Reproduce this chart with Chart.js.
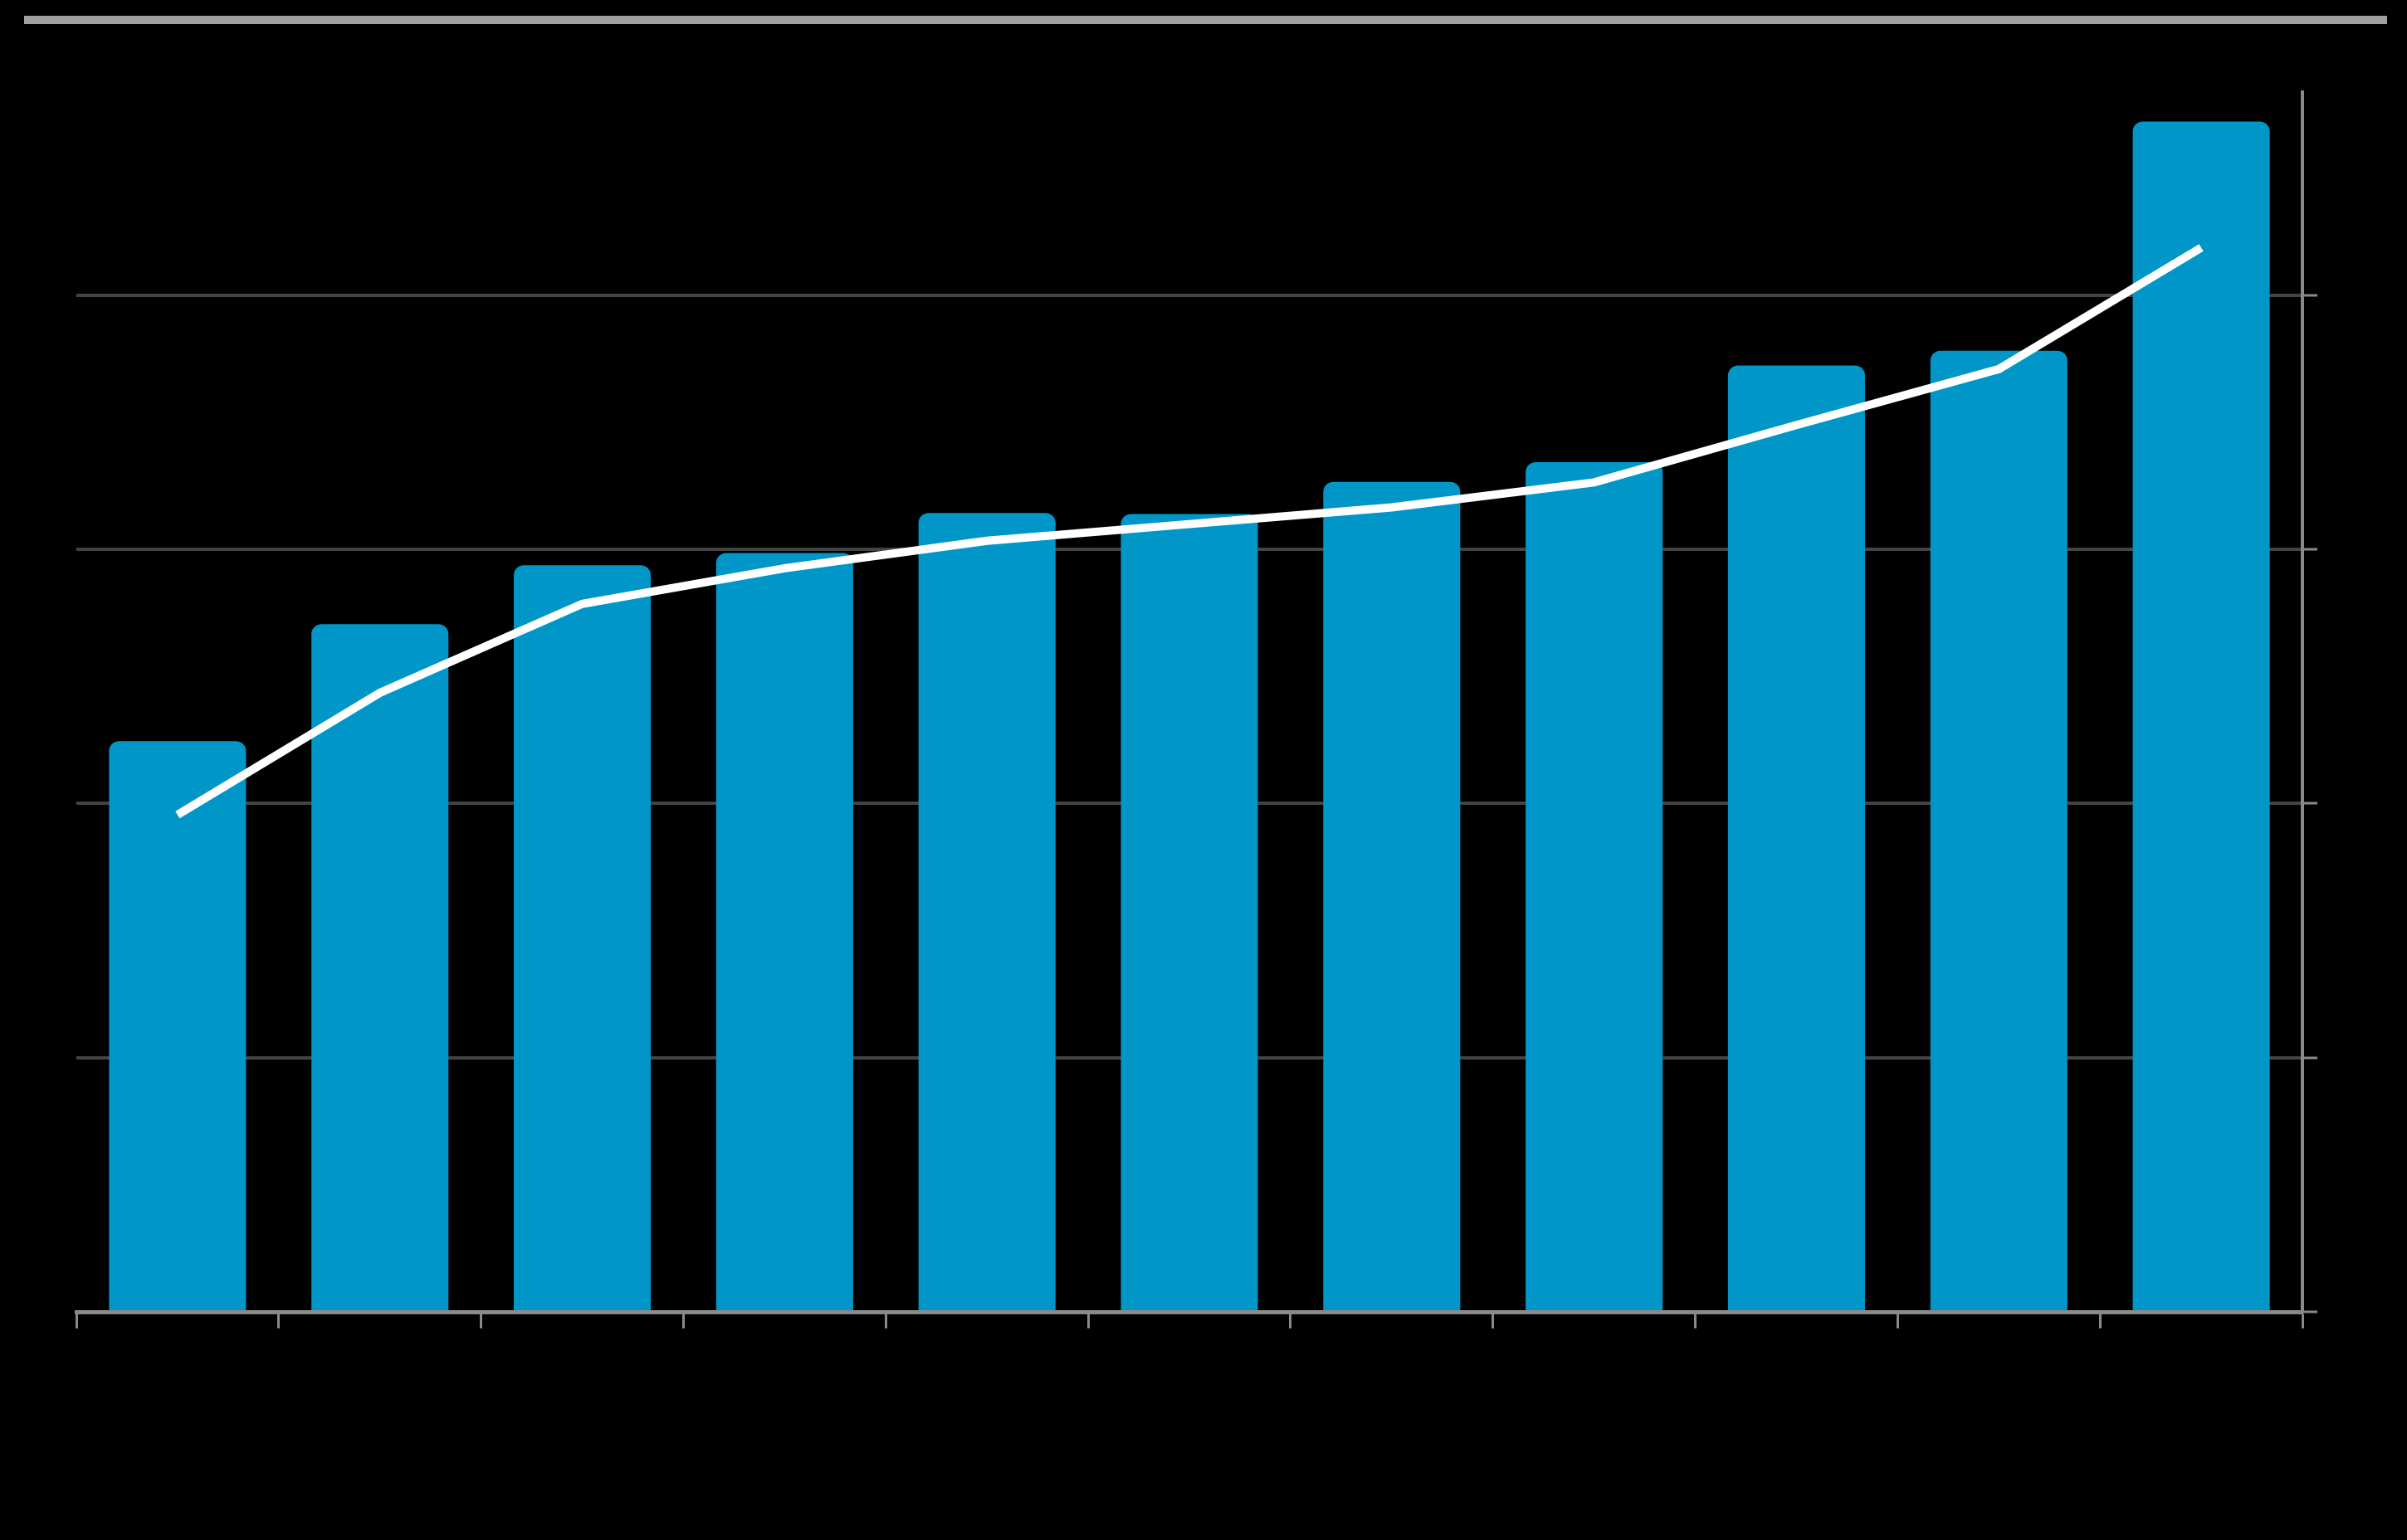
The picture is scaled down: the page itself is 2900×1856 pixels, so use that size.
<!DOCTYPE html>
<html lang="en">
<head>
  <meta charset="UTF-8" />
  <title>Bars with trend line</title>
  <script src="https://cdn.jsdelivr.net/npm/chart.js"></script>
  <style>
    html, body {
      margin: 0;
      padding: 0;
      background: #000;
      width: 2900px;
      height: 1856px;
      overflow: hidden;
    }
    .top-rule {
      position: absolute;
      left: 29px;
      top: 19px;
      width: 2847px;
      height: 10px;
      background: #a0a0a0;
    }
    .wrap {
      position: absolute;
      left: 0;
      top: 0;
      width: 2900px;
      height: 1856px;
    }
  </style>
</head>
<body>
  <div class="top-rule"></div>
  <div class="wrap"><canvas id="chart" width="2900" height="1856"></canvas></div>

  <script>
    const categories = ['1', '2', '3', '4', '5', '6', '7', '8', '9', '10', '11'];
    const barValues = [112.3, 135.3, 146.9, 149.3, 157.2, 157.0, 163.3, 167.2, 186.2, 189.1, 234.2];
    const lineValues = [97.8, 121.8, 139.3, 146.3, 151.7, 155.0, 158.3, 163.2, 174.5, 185.5, 209.4];
    const yTicks = [0, 50, 100, 150, 200];

    const ctx = document.getElementById('chart').getContext('2d');
    new Chart(ctx, {
      type: 'bar',
      data: {
        labels: categories,
        datasets: [
          {
            type: 'line',
            data: lineValues,
            borderColor: '#ffffff',
            borderWidth: 10,
            tension: 0,
            pointRadius: 0,
            yAxisID: 'y',
            order: 0
          },
          {
            type: 'bar',
            data: barValues,
            backgroundColor: '#0096c7',
            borderWidth: 0,
            borderRadius: { topLeft: 12, topRight: 12, bottomLeft: 0, bottomRight: 0 },
            borderSkipped: 'bottom',
            barPercentage: 0.677,
            categoryPercentage: 1.0,
            yAxisID: 'y',
            order: 1
          }
        ]
      },
      options: {
        responsive: false,
        animation: false,
        layout: {
          padding: { left: 92, right: 126, top: 111, bottom: 275 }
        },
        plugins: {
          legend: { display: false },
          tooltip: { enabled: false }
        },
        scales: {
          x: {
            z: 1,
            offset: true,
            afterFit: s => { s.height = 0; },
            ticks: { display: false },
            grid: {
              offset: true,
              drawOnChartArea: false,
              drawTicks: true,
              tickLength: 20,
              tickWidth: 3,
              tickColor: '#8a8a8a'
            },
            border: { display: true, color: '#8a8a8a', width: 5 }
          },
          y: {
            position: 'right',
            min: 0,
            max: 240,
            afterFit: s => { s.width = 0; },
            afterBuildTicks: s => {
              s.ticks = yTicks.map(v => ({ value: v }));
            },
            ticks: { display: false },
            grid: {
              color: '#444444',
              lineWidth: 4,
              drawTicks: true,
              tickLength: 18,
              tickWidth: 3,
              tickColor: '#8a8a8a'
            },
            border: { display: true, color: '#8a8a8a', width: 4 }
          }
        }
      }
    });
  </script>
</body>
</html>
